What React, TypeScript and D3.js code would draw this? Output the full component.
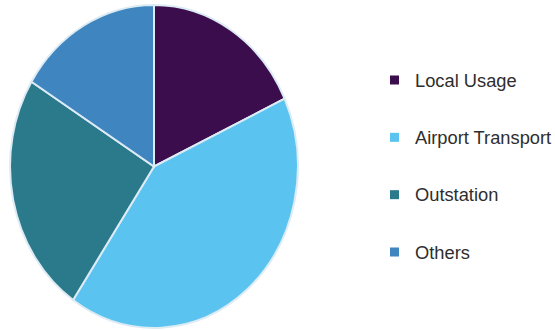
import React from "react";
import * as d3 from "d3";

const categories = ["Local Usage", "Airport Transport", "Outstation", "Others"];
const values = [18.1, 41.4, 24.3, 16.2];
const colors = ["#3b0d4c", "#5ac3f0", "#2b7a8b", "#3f86c1"];

export default function App() {
  const W = 555, H = 330;
  const cx = 154, cy = 166.5, rx = 144, ry = 161.5;
  const pie = d3.pie<number>().sort(null).value((d) => d);
  const arcs = pie(values);
  const arc = d3.arc<d3.PieArcDatum<number>>().innerRadius(0).outerRadius(1);
  const legendY = d3.scalePoint<string>().domain(categories).range([80, 252]);
  return (
    <svg width={W} height={H} style={{ position: "absolute", left: 0, top: 0, background: "#fff" }}>
      <g transform={`translate(${cx},${cy}) scale(${rx},${ry})`}>
        {arcs.map((a, i) => (
          <path
            key={i}
            d={arc(a) || ""}
            fill={colors[i]}
            stroke="#dcebf4"
            strokeWidth={2}
            vectorEffect="non-scaling-stroke"
          />
        ))}
      </g>
      {categories.map((c, i) => (
        <g key={c} transform={`translate(0,${legendY(c)})`}>
          <rect x={390} y={-4.5} width={9} height={9} fill={colors[i]} />
          <text
            x={415}
            y={0}
            dominantBaseline="central"
            fontFamily="Liberation Sans, Arial, sans-serif"
            fontSize={18.3}
            fill="#2e2e2e"
          >
            {c}
          </text>
        </g>
      ))}
    </svg>
  );
}
